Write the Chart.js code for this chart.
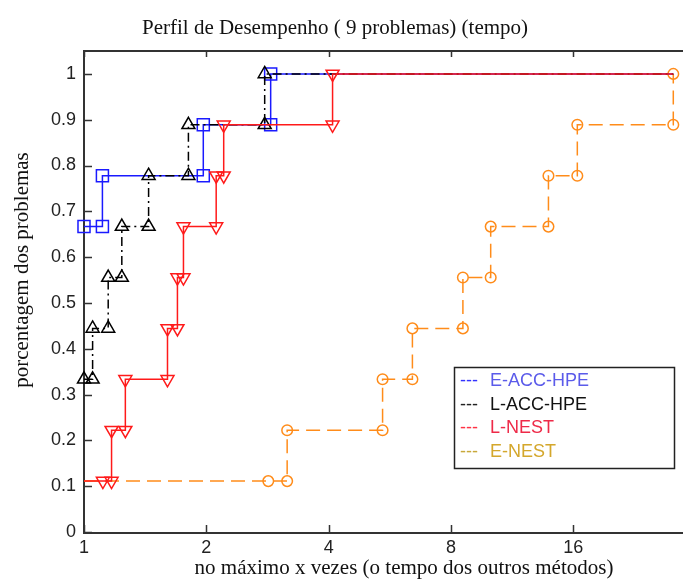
<!DOCTYPE html>
<html>
<head>
<meta charset="utf-8">
<script src="https://cdn.jsdelivr.net/npm/chart.js@4.4.1/dist/chart.umd.min.js"></script>
<style>
  html, body { margin: 0; padding: 0; background: #fff; overflow: hidden; }
  #wrap { width: 700px; height: 586px; }
</style>
</head>
<body>
<div id="wrap"><canvas id="c" width="700" height="586"></canvas></div>
<script>
// Perfil de desempenho: razão (x, escala log2) x nº de problemas resolvidos
const nProblemas = 9;
const xTicks = [1, 2, 4, 8, 16];
const yTicks = [0, 0.1, 0.2, 0.3, 0.4, 0.5, 0.6, 0.7, 0.8, 0.9, 1];
const razaoFinal = 28.2;
const xMax = 31.0;
const yMax = 1.05;

const eAccHpeRazao = [1, 1.11, 1.966, 2.88];
const eAccHpeResolvidos = [6, 7, 8, 9];

const lAccHpeRazao = [1, 1.05, 1.147, 1.239, 1.442, 1.807, 2.784];
const lAccHpeResolvidos = [3, 4, 5, 6, 7, 8, 9];

const lNestRazao = [1.113, 1.169, 1.264, 1.605, 1.698, 1.757, 2.115, 2.207, 4.09];
const lNestResolvidos = [1, 2, 3, 4, 5, 6, 7, 8, 9];

const eNestRazao = [2.841, 3.162, 5.43, 6.43, 8.56, 10.02, 13.9, 16.37, 28.2];
const eNestResolvidos = [1, 2, 3, 4, 5, 6, 7, 8, 9];

const legendaNomes = ["E-ACC-HPE", "L-ACC-HPE", "L-NEST", "E-NEST"];

// monta os vértices da escada (igual ao stairs do matlab)
function escada(razao, resolvidos) {
  const pts = [];
  const n = razao.length;
  if (razao[0] > 1) pts.push({ x: 1, y: resolvidos[0] / nProblemas, m: false });
  for (let i = 0; i < n; i++) {
    pts.push({ x: razao[i], y: resolvidos[i] / nProblemas, m: true });
    if (i + 1 < n) pts.push({ x: razao[i + 1], y: resolvidos[i] / nProblemas, m: true });
  }
  if (razao[n - 1] < razaoFinal) {
    pts.push({ x: razaoFinal, y: resolvidos[n - 1] / nProblemas, m: false });
  }
  return pts;
}

function serie(label, pts, cor, estilo, raio, extra) {
  return Object.assign({
    label,
    data: pts,
    borderColor: cor,
    borderWidth: 1.5,
    pointStyle: estilo,
    pointRadius: (c) => (c.raw && c.raw.m ? raio : 0),
    pointBorderColor: cor,
    pointBackgroundColor: "rgba(0,0,0,0)",
    pointBorderWidth: 1.5,
    tension: 0,
    fill: false,
    clip: false,
  }, extra || {});
}

const AZUL = "#1a1aff";
const PRETO = "#000000";
const VERMELHO = "#ff1a1a";
const LARANJA = "#ff8c1a";

// moldura e ticks para dentro (estilo matlab)
const moldura = {
  id: "moldura",
  beforeDatasetsDraw(chart) {
    const { ctx, chartArea: a, scales } = chart;
    ctx.save();
    ctx.strokeStyle = "#333";
    ctx.lineWidth = 2;
    ctx.beginPath();
    ctx.moveTo(a.left, a.top);
    ctx.lineTo(a.right, a.top);
    ctx.moveTo(a.left, a.top - 1);
    ctx.lineTo(a.left, a.bottom + 1);
    ctx.lineTo(a.right, a.bottom + 1);
    ctx.stroke();

    ctx.lineWidth = 1.5;
    ctx.beginPath();
    yTicks.forEach((v) => {
      const py = Math.round(scales.y.getPixelForValue(v)) + 0.5;
      ctx.moveTo(a.left, py);
      ctx.lineTo(a.left + 8, py);
    });
    xTicks.forEach((v) => {
      const px = Math.round(scales.x.getPixelForValue(v)) + 0.5;
      ctx.moveTo(px, a.bottom);
      ctx.lineTo(px, a.bottom - 7);
      ctx.moveTo(px, a.top);
      ctx.lineTo(px, a.top + 6);
    });
    ctx.stroke();
    ctx.restore();
  },
  afterDraw(chart) {
    const { ctx } = chart;
    ctx.save();
    ctx.fillStyle = "#111";
    ctx.font = '21px "Liberation Serif", "Times New Roman", serif';
    ctx.textAlign = "center";
    ctx.textBaseline = "middle";
    ctx.fillText("Perfil de Desempenho ( 9 problemas) (tempo)", 335, 28);
    ctx.fillText("no máximo x vezes (o tempo dos outros métodos)", 404, 568);

    ctx.save();
    ctx.translate(22, 270);
    ctx.rotate(-Math.PI / 2);
    ctx.fillText("porcentagem dos problemas", 0, 0);
    ctx.restore();

    // legenda
    const lx = 454, ly = 367, lw = 220, lh = 101;
    ctx.fillStyle = "#fff";
    ctx.fillRect(lx, ly, lw, lh);
    ctx.strokeStyle = "#222";
    ctx.lineWidth = 1.5;
    ctx.strokeRect(lx + 0.5, ly + 0.5, lw, lh);

    const corTraco = ["#3333ff", "#222222", "#ff3344", "#c8a83a"];
    const corTexto = ["#5b5bea", "#111111", "#ee2a48", "#d4a72c"];
    ctx.textAlign = "left";
    ctx.font = '18px "Liberation Sans", Arial, sans-serif';
    legendaNomes.forEach((nome, i) => {
      const y = 381 + i * 23.6;
      ctx.fillStyle = corTraco[i];
      ctx.fillText("---", 460, y);
      ctx.fillStyle = corTexto[i];
      ctx.fillText(nome, 490, y);
    });
    ctx.restore();
  },
};

new Chart(document.getElementById("c"), {
  type: "line",
  data: {
    datasets: [
      serie("L-NEST", escada(lNestRazao, lNestResolvidos), VERMELHO, "triangle", 7.5,
        { rotation: 180, order: 0 }),
      serie("L-ACC-HPE", escada(lAccHpeRazao, lAccHpeResolvidos), PRETO, "triangle", 7.5,
        { borderDash: [9, 4, 2, 4], order: 1 }),
      serie("E-ACC-HPE", escada(eAccHpeRazao, eAccHpeResolvidos), AZUL, "rect", 8.5,
        { order: 2 }),
      serie("E-NEST", escada(eNestRazao, eNestResolvidos), LARANJA, "circle", 5.3,
        { borderDash: [14, 7], order: 3 }),
    ],
  },
  options: {
    responsive: false,
    animation: false,
    events: [],
    layout: { padding: { left: 0, right: 7, top: 51, bottom: 0 } },
    plugins: { legend: { display: false }, tooltip: { enabled: false }, title: { display: false } },
    scales: {
      x: {
        type: "logarithmic",
        min: 1,
        max: xMax,
        grid: { display: false, drawTicks: false },
        border: { display: false },
        afterBuildTicks: (s) => { s.ticks = xTicks.map((v) => ({ value: v })); },
        afterFit: (s) => { s.height = 54; },
        ticks: {
          padding: 5,
          color: "#222",
          font: { family: '"Liberation Sans", Arial, sans-serif', size: 18 },
          callback: (v) => String(v),
          maxRotation: 0,
          autoSkip: false,
        },
      },
      y: {
        type: "linear",
        min: 0,
        max: yMax,
        grid: { display: false, drawTicks: false },
        border: { display: false },
        afterBuildTicks: (s) => { s.ticks = yTicks.map((v) => ({ value: v })); },
        afterFit: (s) => { s.width = 84; },
        ticks: {
          padding: 8,
          color: "#222",
          font: { family: '"Liberation Sans", Arial, sans-serif', size: 18 },
          callback: (v) => String(Number(v.toFixed(1))),
          autoSkip: false,
        },
      },
    },
  },
  plugins: [moldura],
});
</script>
</body>
</html>
